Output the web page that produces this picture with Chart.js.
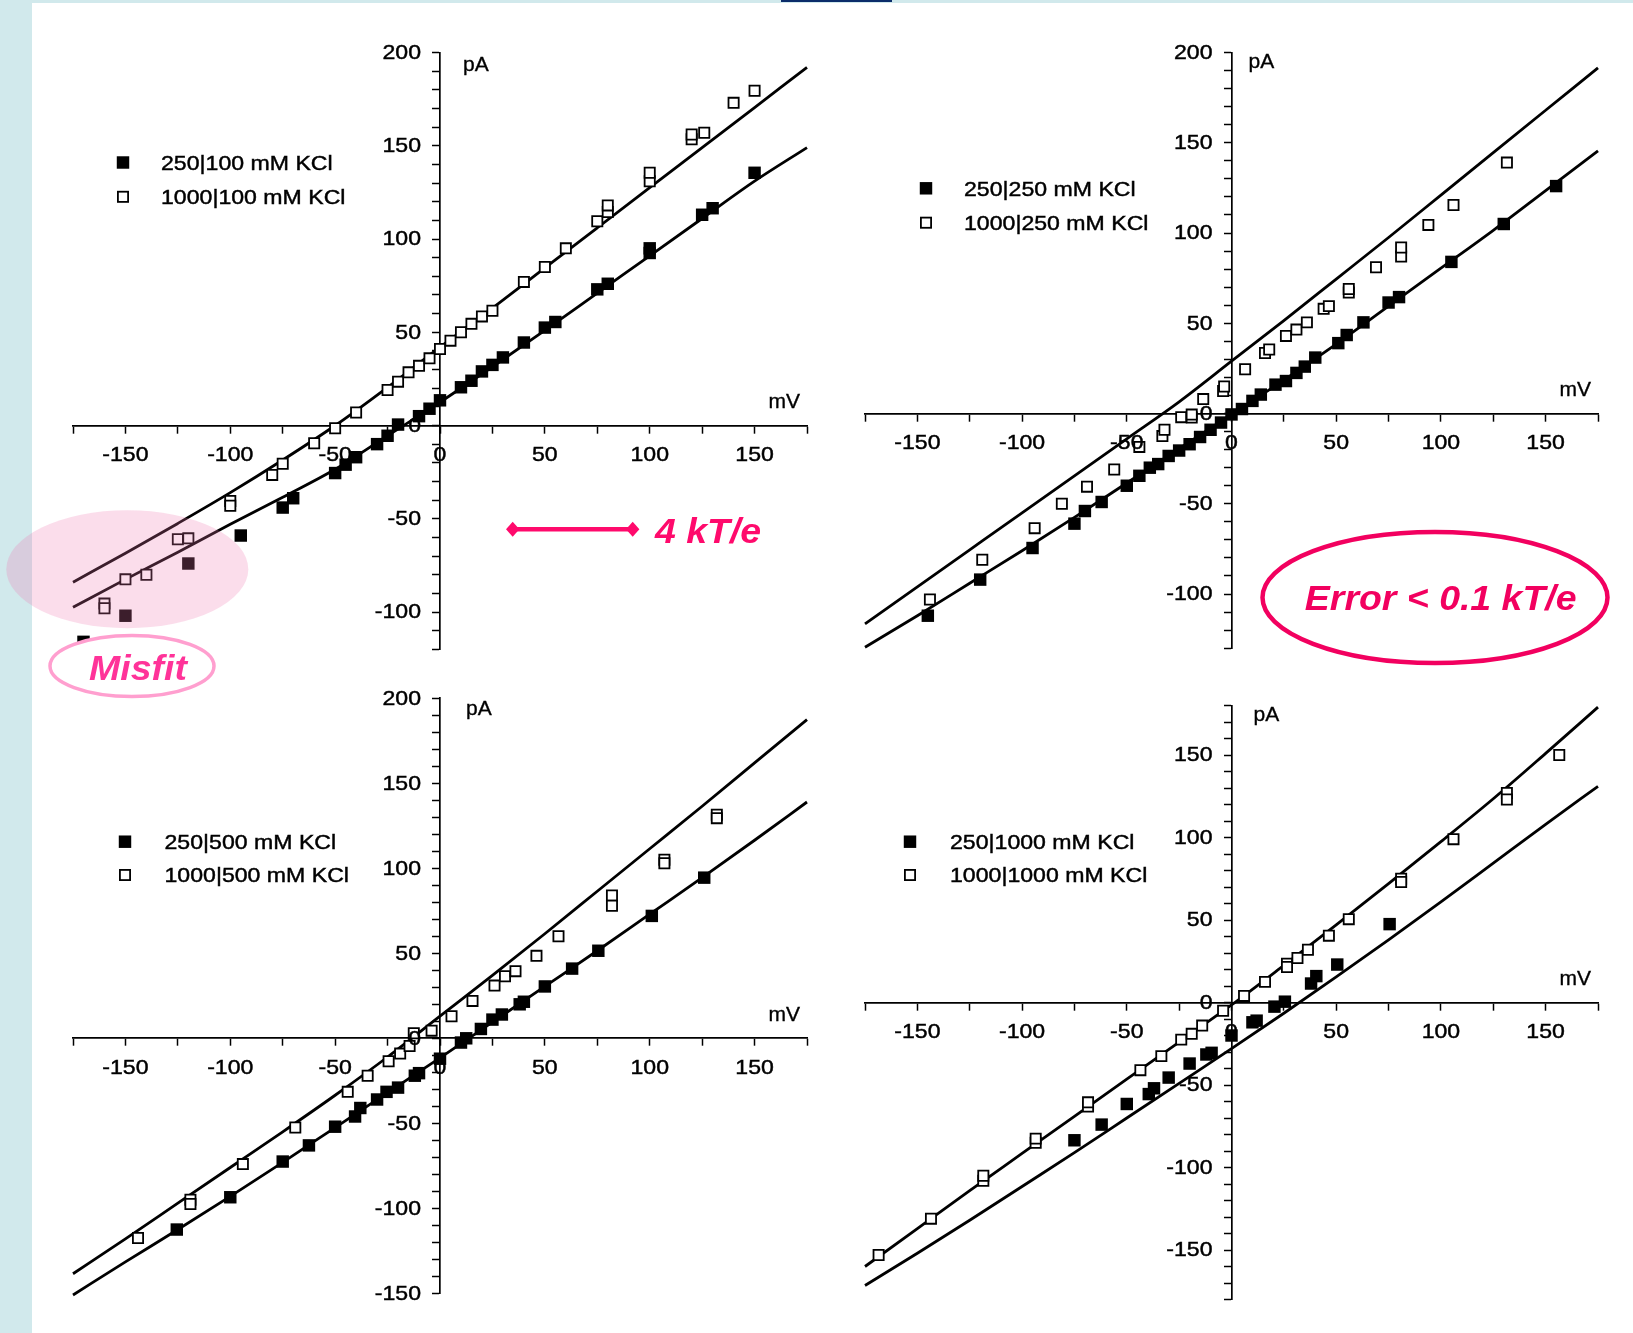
<!DOCTYPE html>
<html>
<head>
<meta charset="utf-8">
<title>KCl current-voltage curves</title>
<script src="https://cdn.jsdelivr.net/npm/chart.js@4.4.1/dist/chart.umd.min.js"></script>
<style>
  html, body { margin: 0; padding: 0; }
  body { width: 1633px; height: 1333px; position: relative; overflow: hidden; background: #d1e9ec; }
  #sheet { position: absolute; left: 32px; top: 3px; right: 0; bottom: 0; background: #fff; }
  #tab { position: absolute; left: 781px; top: 0; width: 111px; height: 2px; background: #0b2c6a; }
  canvas { position: absolute; left: 0; top: 0; }
</style>
</head>
<body>
<div id="sheet"></div>
<div id="tab"></div>
<canvas id="p1" width="1633" height="1333"></canvas>
<canvas id="p2" width="1633" height="1333"></canvas>
<canvas id="p3" width="1633" height="1333"></canvas>
<canvas id="p4" width="1633" height="1333"></canvas>
<canvas id="notes" width="1633" height="1333"></canvas>
<script>
// Voltage grid (mV) on which the model fits are listed
const fitMv = [-175, -150, -125, -100, -75, -50, -25, 0, 25, 50, 75, 100, 125, 150, 175];

// Tick labels
const xLabelValues = [-150, -100, -50, 0, 50, 100, 150];
const yLabelValues = [-150, -100, -50, 0, 50, 100, 150, 200];

// --- 250|100 and 1000|100 mM KCl ---
const k100LowMv = [-170, -150, -120, -95, -75, -70, -50, -45, -40, -30, -25, -20, -10, -5, 0, 10, 15, 20, 25, 30, 40, 50, 55, 75, 80, 100, 100, 125, 130, 150];
const k100LowPa = [-116, -102, -74, -59, -44, -39, -25.5, -21, -17, -10, -5.5, 0.5, 5, 9, 13.5, 20.5, 24, 29, 32.5, 36.5, 44.5, 52.5, 55.5, 73, 76, 92.5, 95, 113, 116.5, 135.5];
const k100HighMv = [-160, -160, -150, -140, -125, -120, -100, -100, -80, -75, -60, -50, -40, -25, -20, -15, -10, -5, 0, 5, 10, 15, 20, 25, 40, 50, 60, 75, 80, 80, 100, 100, 120, 120, 126, 140, 150];
const k100HighPa = [-95.5, -98, -82.5, -80, -61, -60.5, -40.5, -43, -26.5, -20.5, -9.5, -1.5, 7, 19, 23.5, 28.5, 32, 36, 41, 45.5, 50, 54.5, 58.5, 61.5, 77, 85, 95, 109.5, 114.5, 118, 131, 135.5, 153.5, 156, 157, 173, 179.5];
const k100FitLow = [-97.5, -82.5, -68, -53, -38.5, -23.5, -5.5, 12.5, 31.5, 51, 71, 91, 111, 131, 149];
const k100FitHigh = [-84, -68.5, -52.5, -36, -18.5, 0, 20.5, 42, 63, 84.5, 106, 127.5, 149, 170.5, 192];

// --- 250|250 and 1000|250 mM KCl ---
const k250LowMv = [-145, -120, -95, -75, -70, -62, -50, -44, -39, -35, -30, -25, -20, -15, -10, -5, 0, 5, 10, 14, 21, 26, 31, 35, 40, 51, 55, 63, 75, 80, 105, 130, 155];
const k250LowPa = [-112, -92, -74.5, -61, -54, -49, -40, -34.5, -30, -28, -23.5, -20.5, -17, -13, -9, -5, -0.5, 2.5, 7, 10.5, 16, 18, 22.5, 26, 31, 39, 43.5, 50.5, 61.5, 64.5, 84, 105, 126];
const k250HighMv = [-144, -119, -94, -81, -69, -56, -44, -33, -32, -24, -19, -19, -13.5, -4, -3.5, 6.5, 16, 18, 26, 31, 36, 44, 46.5, 56, 56, 69, 81, 81, 94, 106, 131.5];
const k250HighPa = [-103, -81, -63.5, -50, -40.5, -31, -18.5, -12.5, -9, -2, -2.2, -0.6, 8, 12.5, 15, 24.5, 33.5, 35.5, 43, 46.5, 50.5, 58, 59.5, 67, 69, 81, 87, 92, 104.5, 115.5, 139];
const k250FitLow = [-129.5, -112, -94, -76, -57.5, -38.5, -19.5, -0.5, 18.5, 38.5, 59.5, 80.5, 101.5, 123.5, 145.5];
const k250FitHigh = [-116.5, -96, -75.5, -55, -34.5, -14, 6.5, 29, 51.5, 74.5, 97.5, 121, 144.5, 168, 191.5];

// --- 250|500 and 1000|500 mM KCl ---
const k500LowMv = [-125.5, -100, -75, -62.5, -50, -40.5, -38, -30, -25.5, -20, -12, -10, 0, 10, 12.5, 19.5, 25, 29.5, 38, 40, 50, 63, 75.5, 101, 126];
const k500LowPa = [-112.5, -93.5, -72.5, -63, -52, -46, -41, -36, -31.5, -29, -22, -20.5, -12, -2.5, 0, 5.5, 11, 14, 20, 21.5, 30.5, 41, 51.5, 72, 94.5];
const k500HighMv = [-144, -119, -119, -94, -69, -44, -34.5, -24.5, -19, -14.5, -12.5, -4, 5.5, 15.5, 26, 31, 36, 46, 56.5, 82, 82, 107, 107, 132, 132];
const k500HighPa = [-117.5, -95, -97.5, -74, -52.5, -31.5, -22, -13.5, -9, -4.5, 3, 4.5, 13, 22, 31, 36.5, 39.5, 48.5, 60, 84, 78, 105, 103, 131.5, 129.5];
const k500FitLow = [-151, -131.5, -112.5, -93, -73, -52.5, -32, -11.5, 9.5, 30.5, 51.5, 73, 94.5, 116.5, 139];
const k500FitHigh = [-138.5, -118, -97, -76, -55, -33.5, -11, 13, 37, 61.5, 86.5, 111.5, 136.5, 162, 187.5];

// --- 250|1000 and 1000|1000 mM KCl ---
const k1000LowMv = [-75, -62, -50, -39.5, -37, -30, -20, -12, -9.5, 0, 10, 12, 20.5, 25.5, 38, 40.5, 50.5, 75.5];
const k1000LowPa = [-83.5, -74, -61.5, -55.5, -52, -45.5, -37, -31.5, -30.5, -20, -12, -11, -2.5, 0.5, 11.5, 16, 23, 47.5];
const k1000HighMv = [-168.5, -143.5, -118.5, -118.5, -93.5, -93.5, -68.5, -68.5, -43.5, -33.5, -24, -19, -14, -4, 6, 16, 26.5, 26.5, 31.5, 36.5, 46.5, 56, 81, 81, 106, 131.5, 131.5, 156.5];
const k1000HighPa = [-153, -131, -108, -105, -85, -82.5, -63, -60.5, -41, -32.5, -22.5, -19, -14, -5, 4, 12.5, 23.5, 21.5, 27, 32, 40.5, 50.5, 75, 73, 99, 127, 123, 150];
const k1000FitLow = [-171.5, -152, -132, -111.5, -91, -70, -49, -28, -6.5, 15.5, 38, 61, 84.5, 108, 131];
const k1000FitHigh = [-160, -137, -114, -91.5, -69, -46.5, -24, -1.5, 22.5, 47, 72, 97.5, 123.5, 151, 179];

const pts = (xs, ys) => xs.map((x, i) => ({ x, y: ys[i] }));
const LABEL_FONT = '21px "Liberation Sans"';
const LABEL_STRETCH = 1.1;

// fillText with a horizontal stretch factor and an optional thin outline
function wideText(ctx, text, x, y, align, sx, outline) {
  const w = ctx.measureText(text).width * sx;
  const left = align === 'right' ? x - w : align === 'center' ? x - w / 2 : x;
  ctx.save();
  ctx.translate(left, y);
  ctx.scale(sx, 1);
  ctx.textAlign = 'left';
  ctx.fillText(text, 0, 0);
  if (outline) {
    ctx.lineWidth = outline;
    ctx.strokeStyle = ctx.fillStyle;
    ctx.strokeText(text, 0, 0);
  }
  ctx.restore();
}

// Tick labels, axis titles and the inset key of each panel
const decor = {
  id: 'decor',
  afterDatasetsDraw(chart, _args, o) {
    const { ctx, chartArea: ca, scales: { x: xs, y: ys } } = chart;
    const x0 = xs.getPixelForValue(0);
    const y0 = ys.getPixelForValue(0);
    ctx.save();
    ctx.fillStyle = '#000';
    ctx.font = LABEL_FONT;
    ctx.textBaseline = 'middle';

    xLabelValues.filter(v => v >= xs.min && v <= xs.max).forEach(v => {
      wideText(ctx, String(v), xs.getPixelForValue(v), y0 + 29.5, 'center', LABEL_STRETCH, 0.45);
    });
    yLabelValues.filter(v => v >= ys.min && v <= ys.max).forEach(v => {
      wideText(ctx, String(v), x0 - 19, ys.getPixelForValue(v) + 0.5, 'right', LABEL_STRETCH, 0.45);
    });

    wideText(ctx, 'pA', x0 + o.pa[0], ca.top + o.pa[1], 'left', 1.0, 0.35);
    wideText(ctx, 'mV', ca.right - 7, y0 - 23.5, 'right', 1.0, 0.35);

    chart.data.datasets.filter(d => !d.showLine).forEach((d, i) => {
      const cy = o.key.y[i];
      const s = d.pointRadius * Math.SQRT2;
      if (d.borderWidth) {
        ctx.fillStyle = '#fff';
        ctx.fillRect(o.key.x - s / 2, cy - s / 2, s, s);
        ctx.lineWidth = d.borderWidth;
        ctx.strokeStyle = '#000';
        ctx.strokeRect(o.key.x - s / 2, cy - s / 2, s, s);
      } else {
        ctx.fillStyle = '#000';
        ctx.fillRect(o.key.x - s / 2, cy - s / 2, s, s);
      }
      ctx.fillStyle = '#000';
      wideText(ctx, d.label, o.key.textX, cy + 1.5, 'left', LABEL_STRETCH, 0.45);
    });
    ctx.restore();
  }
};

function axisOptions(min, max, step, pos) {
  return {
    type: 'linear',
    min, max,
    position: pos,
    ticks: { stepSize: step, autoSkip: false, maxRotation: 0, display: false },
    grid: {
      display: true,
      drawOnChartArea: false,
      drawTicks: true,
      tickLength: 7,
      tickColor: '#000',
      tickWidth: 1.5
    },
    border: { display: true, color: '#000', width: 1.7 }
  };
}

function panel(id, area, yMin, yMax, series, decorOpts) {
  const [low, high, fitLow, fitHigh, names] = series;
  return new Chart(document.getElementById(id), {
    type: 'scatter',
    data: {
      datasets: [
        { label: names[0], data: pts(low[0], low[1]), pointStyle: 'rect', pointRadius: 8.8,
          backgroundColor: '#000', borderWidth: 0, showLine: false, clip: false },
        { label: names[1], data: pts(high[0], high[1]), pointStyle: 'rect', pointRadius: 7.2,
          backgroundColor: '#fff', borderColor: '#000', borderWidth: 1.8, showLine: false, clip: false },
        { label: 'fit ' + names[1], data: pts(fitMv, fitHigh), showLine: true, pointRadius: 0,
          borderColor: '#000', borderWidth: 2.8, cubicInterpolationMode: 'monotone', clip: false },
        { label: 'fit ' + names[0], data: pts(fitMv, fitLow), showLine: true, pointRadius: 0,
          borderColor: '#000', borderWidth: 2.8, cubicInterpolationMode: 'monotone', clip: false }
      ]
    },
    options: {
      responsive: false,
      devicePixelRatio: 1,
      animation: false,
      events: [],
      layout: { padding: { left: area[0], right: 1633 - area[1], top: area[2], bottom: 1333 - area[3] } },
      scales: {
        x: axisOptions(-175, 175, 25, { y: 0 }),
        y: axisOptions(yMin, yMax, 10, { x: 0 })
      },
      plugins: {
        legend: { display: false },
        tooltip: { enabled: false },
        decor: decorOpts
      }
    },
    plugins: [decor]
  });
}

// chart areas: [left, right, top, bottom] in page pixels
panel('p1', [73, 807, 52.5, 649.3], -120, 200,
  [[k100LowMv, k100LowPa], [k100HighMv, k100HighPa], k100FitLow, k100FitHigh,
   ['250|100 mM KCl', '1000|100 mM KCl']],
  { pa: [23, 12.5], key: { x: 123, y: [162.5, 196.8], textX: 161 } });

panel('p2', [865, 1598, 52.5, 648.2], -130, 200,
  [[k250LowMv, k250LowPa], [k250HighMv, k250HighPa], k250FitLow, k250FitHigh,
   ['250|250 mM KCl', '1000|250 mM KCl']],
  { pa: [17, 10], key: { x: 926, y: [188.3, 222.7], textX: 964 } });

panel('p3', [73, 807, 698.3, 1293.3], -150, 200,
  [[k500LowMv, k500LowPa], [k500HighMv, k500HighPa], k500FitLow, k500FitHigh,
   ['250|500 mM KCl', '1000|500 mM KCl']],
  { pa: [26, 11], key: { x: 125, y: [841.7, 875], textX: 164.5 } });

panel('p4', [865, 1598, 705.5, 1299.5], -180, 180,
  [[k1000LowMv, k1000LowPa], [k1000HighMv, k1000HighPa], k1000FitLow, k1000FitHigh,
   ['250|1000 mM KCl', '1000|1000 mM KCl']],
  { pa: [22, 10], key: { x: 910, y: [841.7, 875], textX: 950 } });

// Callouts drawn over the panels
(function drawNotes() {
  const c = document.getElementById('notes').getContext('2d');
  const NOTE_STRETCH = 1.07;
  c.font = 'italic bold 35px "Liberation Sans"';
  c.textBaseline = 'alphabetic';

  // shaded zone over the poorly fitted hyperpolarised points
  c.fillStyle = 'rgba(240,120,175,0.25)';
  c.beginPath();
  c.ellipse(127.3, 569.2, 121, 59, 0, 0, 2 * Math.PI);
  c.fill();

  // "Misfit" tag
  c.beginPath();
  c.ellipse(132, 666, 82, 30.5, 0, 0, 2 * Math.PI);
  c.fillStyle = '#fff';
  c.fill();
  c.lineWidth = 3.5;
  c.strokeStyle = '#ff9fcf';
  c.stroke();
  c.fillStyle = '#ff3399';
  wideText(c, 'Misfit', 138, 680, 'center', NOTE_STRETCH);

  // 4 kT/e scale bar
  const pink = '#ff0a6c';
  c.strokeStyle = pink;
  c.fillStyle = pink;
  c.lineWidth = 4.5;
  c.beginPath();
  c.moveTo(512.7, 529.3);
  c.lineTo(632.7, 529.3);
  c.stroke();
  [512.7, 632.7].forEach(cx => {
    c.beginPath();
    c.moveTo(cx - 6.7, 529.3);
    c.lineTo(cx, 521.8);
    c.lineTo(cx + 6.7, 529.3);
    c.lineTo(cx, 536.8);
    c.closePath();
    c.fill();
  });
  wideText(c, '4 kT/e', 655, 543.3, 'left', NOTE_STRETCH);

  // error callout
  c.strokeStyle = '#f2005f';
  c.lineWidth = 4.5;
  c.beginPath();
  c.ellipse(1435, 597.5, 172.5, 65.5, 0, 0, 2 * Math.PI);
  c.stroke();
  c.fillStyle = '#f2005f';
  wideText(c, 'Error < 0.1 kT/e', 1440.7, 610, 'center', NOTE_STRETCH);
})();
</script>
</body>
</html>
